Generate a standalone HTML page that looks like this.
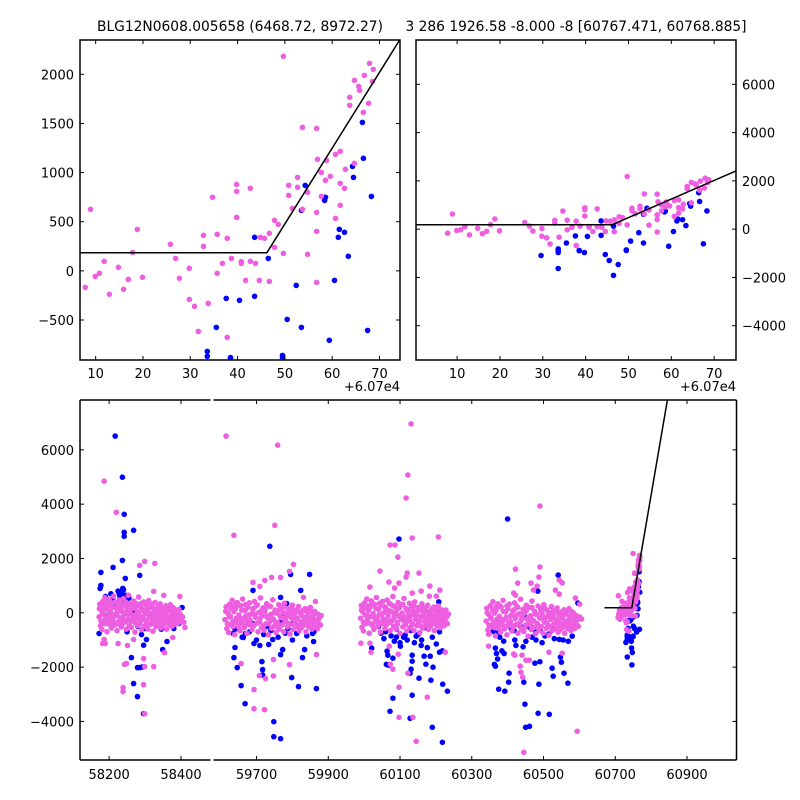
<!DOCTYPE html>
<html><head><meta charset="utf-8"><style>
html,body{margin:0;padding:0;background:#fff;}
svg{display:block;font-family:"DejaVu Sans","Liberation Sans",sans-serif;}
</style></head><body>
<svg id="chart" width="800" height="800" viewBox="0 0 800 800" xmlns="http://www.w3.org/2000/svg"></svg>
<script>
// ---- data ----
// zoomed last season (offset from 60700)
const topMag = [[8.9,626],[7.8,-168],[9.9,-56],[10.8,-25],[11.8,97],[12.9,-239],[14.8,36],[15.9,-188],[16.9,-87],[17.8,188],[18.8,422],[19.9,-66],[25.8,270],[26.9,127],[27.7,-76],[29.8,26],[29.8,-290],[30.9,-361],[31.7,-616],[32.8,361],[32.8,249],[33.8,-331],[34.7,748],[35.7,371],[35.7,-25],[36.8,76],[37.8,331],[37.8,-677],[38.7,127],[39.8,880],[39.8,809],[39.8,544],[40.8,93],[40.8,76],[41.7,-97],[42.7,840],[42.7,97],[43.8,76],[44.6,-97],[44.8,341],[45.7,331],[46.7,382],[46.7,-107],[47.8,514],[47.8,239],[48.6,473],[49.7,2183],[49.7,178],[50.8,870],[50.8,768],[51.6,636],[52.7,951],[52.7,850],[53.7,1460],[53.7,626],[54.8,799],[54.8,168],[56.7,1450],[56.7,595],[56.7,402],[56.7,-117],[56.9,1135],[57.7,1002],[57.7,758],[58.6,921],[58.8,1124],[59.6,962],[60.7,1186],[60.7,534],[61.7,1216],[61.7,890],[61.7,667],[62.6,840],[62.8,1033],[63.7,1766],[63.7,1684],[64.7,1939],[64.7,1094],[65.6,1877],[65.8,1837],[66.6,1613],[66.8,1989],[67.7,1705],[67.9,2112],[68.5,1928],[68.7,2050]];
const topBlue = [[43.6,341],[46.5,127],[53.5,616],[54.3,870],[58.6,748],[58.4,717],[61.5,422],[61.3,341],[62.6,392],[64.3,1063],[64.5,951],[66.4,1511],[66.6,1145],[68.3,758],[63.4,148],[60.5,-97],[52.4,-148],[43.6,-259],[40.4,-300],[37.6,-280],[35.5,-575],[33.6,-819],[38.5,-890],[50.5,-494],[53.5,-575],[59.4,-707],[67.5,-606],[49.5,-860],[29.6,-1090],[33.6,-1628],[33.6,-870],[33.6,-966],[44.6,-1048],[45.5,-1297],[46.5,-1917],[47.6,-1462],[39.7,-966],[38.5,-883],[49.5,-883]];
const fitX = [-30, 46.2, 146];
const fitY = [185, 185, 7880];
const seasonOffset = 60700;

const magAll = [
[58186,4846],[58220,3702],[58285,1747],[58299,1894],[58327,1820],[58397,603],[58324,787],[58352,640],[58411,-541],[58377,-910],[58354,-1464],[58324,-1980],[58299,-1980],[58239,-2755],[58239,-2903],[58248,-1870],[58243,-1900],[58299,-3715],[58296,-2645],[58296,-1685],[58189,-1131],[58186,-984],[58182,-1131],[58225,-1131],[58251,-1205],[58268,-984],
[58172,-150],[58174,320],[58176,-480],[58178,90],[58180,-620],[58182,410],[58184,-30],[58186,-350],[58188,560],[58190,-210],[58192,140],[58194,-700],[58196,250],[58198,-90],[58200,480],[58202,-410],[58204,20],[58206,-560],[58208,360],[58210,-260],[58212,610],[58214,-120],[58216,-440],[58218,180],[58220,-20],[58222,-660],[58224,300],[58226,-330],[58228,470],[58230,-170],[58232,60],[58234,-520],[58236,220],[58238,-380],[58240,520],[58242,-60],[58244,-280],[58246,390],[58248,-600],[58250,110],[58252,-240],[58254,650],[58256,-450],[58258,-10],[58260,280],[58262,-540],[58264,160],[58266,-300],[58268,430],[58270,-80],[58272,-710],[58274,350],[58276,-190],[58278,40],[58280,-470],[58282,580],[58284,-130],[58286,-390],[58288,200],[58290,-620],[58292,90],[58294,-250],[58296,400],[58298,-500],[58300,-40],[58302,300],[58304,-350],[58306,120],[58308,-600],[58310,450],[58312,-180],[58314,-20],[58316,-420],[58318,250],[58320,-300],[58322,-680],[58324,150],[58326,-90],[58328,380],[58330,-510],[58332,30],[58334,-260],[58336,200],[58338,-400],[58340,-120],[58342,330],[58344,-560],[58346,80],[58348,-230],[58350,-450],[58352,180],[58354,-50],[58356,-340],[58358,260],[58360,-600],[58362,-150],[58364,100],[58366,-420],[58368,-260],[58370,300],[58372,-80],[58374,-500],[58376,40],[58378,-320],[58380,150],[58382,-200],[58384,-420],[58386,60],[58388,-280],[58390,-100],[58392,-380],[58394,120],[58396,-220],[58398,-60],[58400,-300],[58404,-150],[58408,-350],
[58173,150],[58177,-300],[58181,-50],[58185,250],[58189,-400],[58193,380],[58197,-250],[58201,60],[58205,-150],[58209,200],[58213,-350],[58217,400],[58221,-100],[58225,120],[58229,-420],[58233,300],[58237,-200],[58241,20],[58245,-330],[58249,260],[58253,-60],[58257,350],[58261,-280],[58265,-120],[58269,180],[58273,-380],[58277,250],[58281,-20],[58285,-300],[58289,340],[58293,-150],[58297,100],[58301,-260],[58305,-420],[58309,200],[58313,-80],[58317,320],[58321,-220],[58325,60],[58329,-360],[58333,-40],[58337,240],[58341,-300],[58345,-100],[58349,160],[58353,-380],[58357,20],[58361,-220],[58365,180],[58369,-350],[58373,-50],[58377,200],[58381,-260],[58385,-100],[58389,100],[58393,-200],
[59615,6507],[59759,6175],[59637,2854],[59751,3223],[59803,1783],[59792,1525],[59767,1304],[59742,1304],[59723,1193],[59690,1119],[59709,972],[59831,566],[59864,418],[59870,-578],[59867,-1538],[59792,-1907],[59657,-1870],[59693,-2829],[59693,-3530],[59722,-3567],[59747,-2325],[59725,-2423],[59708,-2312],[59747,-1722],
[59612,-250],[59615,220],[59617,-580],[59620,-10],[59622,-720],[59625,310],[59627,-130],[59629,-450],[59632,460],[59634,-310],[59637,40],[59639,-800],[59642,150],[59644,-190],[59646,380],[59649,-510],[59651,-80],[59654,-660],[59656,260],[59658,-360],[59661,510],[59663,-220],[59666,-540],[59668,80],[59670,-120],[59673,-760],[59675,200],[59678,-430],[59680,370],[59682,-270],[59685,-40],[59687,-620],[59690,120],[59692,-480],[59694,420],[59697,-160],[59699,-380],[59702,290],[59704,-700],[59706,10],[59709,-340],[59711,550],[59714,-550],[59716,-110],[59718,180],[59721,-640],[59723,60],[59726,-400],[59728,330],[59730,-180],[59733,-810],[59735,250],[59738,-290],[59740,-60],[59742,-570],[59745,480],[59747,-230],[59750,-490],[59752,100],[59754,-720],[59757,-10],[59759,-350],[59762,300],[59764,-600],[59766,-140],[59769,200],[59771,-450],[59774,20],[59776,-700],[59778,350],[59781,-280],[59783,-120],[59786,-520],[59788,150],[59790,-400],[59793,-780],[59795,50],[59798,-190],[59800,280],[59802,-610],[59805,-70],[59807,-360],[59810,100],[59812,-500],[59814,-220],[59817,230],[59819,-660],[59822,-20],[59824,-330],[59826,-550],[59829,80],[59831,-150],[59834,-440],[59836,160],[59838,-700],[59841,-250],[59843,0],[59846,-520],[59848,-360],[59850,200],[59853,-180],[59855,-600],[59858,-60],[59860,-420],[59862,50],[59865,-300],[59867,-520],[59870,-40],[59872,-380],[59875,-200],[59878,-450],[59880,-100],
[59614,50],[59619,-400],[59624,-150],[59629,150],[59634,-500],[59639,280],[59644,-350],[59649,300],[59654,-200],[59659,100],[59664,-450],[59669,300],[59674,-300],[59679,-80],[59684,-430],[59689,160],[59694,-60],[59699,250],[59704,-380],[59709,-220],[59714,80],[59719,-480],[59724,150],[59729,-120],[59734,-400],[59739,240],[59744,-250],[59749,0],[59754,-360],[59759,-500],[59764,100],[59769,-180],[59774,220],[59779,-320],[59784,-40],[59789,-460],[59794,-140],[59799,140],[59804,-400],[59809,-200],[59814,60],[59819,-480],[59824,-80],[59829,-340],[59834,80],[59839,-450],[59844,-150],[59849,100],[59854,-360],[59859,-200],
[60131,6957],[60122,5076],[60117,4228],[60207,2791],[60134,2754],[60072,2496],[60086,2496],[60094,2053],[60044,1537],[60120,1463],[60117,1316],[60153,1463],[60069,1131],[60097,1094],[60183,983],[60085,910],[60134,726],[60159,800],[60201,612],[60182,612],[60016,947],[60211,836],[59991,-1118],[60019,-1450],[60016,-1118],[60226,-1450],[60070,-1229],[60095,-1524],[60073,-1893],[60080,-2077],[60122,-2224],[60097,-2740],[60176,-3109],[60097,-3847],[60136,-3847],[60145,-4732],
[59990,-200],[59992,270],[59994,-530],[59996,40],[59998,-670],[60001,360],[60003,-80],[60005,-400],[60007,510],[60009,-260],[60012,90],[60014,-750],[60016,200],[60018,-140],[60020,430],[60023,-460],[60025,-30],[60027,-610],[60029,310],[60031,-310],[60034,560],[60036,-170],[60038,-490],[60040,130],[60042,-70],[60045,-710],[60047,250],[60049,-380],[60051,420],[60053,-220],[60056,10],[60058,-570],[60060,170],[60062,-430],[60064,470],[60067,-110],[60069,-330],[60071,340],[60073,-650],[60075,60],[60078,-290],[60080,600],[60082,-500],[60084,-60],[60086,230],[60089,-590],[60091,110],[60093,-350],[60095,380],[60097,-130],[60100,-760],[60102,300],[60104,-240],[60106,-10],[60108,-520],[60111,530],[60113,-180],[60115,-440],[60117,150],[60119,-670],[60122,40],[60124,-300],[60126,350],[60128,-550],[60130,-90],[60133,250],[60135,-400],[60137,70],[60139,-650],[60141,400],[60144,-230],[60146,-70],[60148,-470],[60150,200],[60152,-350],[60155,-730],[60157,100],[60159,-140],[60161,330],[60163,-560],[60166,-20],[60168,-310],[60170,150],[60172,-450],[60174,-170],[60177,280],[60179,-610],[60181,30],[60183,-280],[60185,-500],[60188,130],[60190,-100],[60192,-390],[60194,210],[60196,-650],[60199,-200],[60201,50],[60203,-470],[60205,-310],[60207,250],[60210,-130],[60212,-550],[60214,-10],[60216,-370],[60218,100],[60221,-250],[60223,-470],[60225,10],[60227,-330],[60230,-150],[60232,-400],[60235,-50],
[59993,100],[59998,-350],[60003,200],[60008,-100],[60013,250],[60018,-400],[60023,300],[60028,-150],[60033,150],[60038,-300],[60043,350],[60048,-50],[60053,-400],[60058,220],[60063,-250],[60068,80],[60073,-350],[60078,280],[60083,-200],[60088,-20],[60093,-420],[60098,180],[60103,-80],[60108,300],[60113,-330],[60118,-150],[60123,120],[60128,-260],[60133,-450],[60138,250],[60143,-100],[60148,50],[60153,-300],[60158,-480],[60163,200],[60168,-120],[60173,80],[60178,-350],[60183,-50],[60188,-250],[60193,100],[60198,-380],[60203,-100],[60208,130],[60213,-300],[60218,-120],[60223,-200],[60228,100],
[60490,3934],[60490,1685],[60422,1611],[60487,1316],[60482,983],[60465,1094],[60428,1094],[60544,1205],[60552,1100],[60472,836],[60533,836],[60544,690],[60417,726],[60422,650],[60589,542],[60601,320],[60606,-233],[60347,-786],[60347,-1229],[60420,-1560],[60417,-1520],[60440,-1560],[60451,-1745],[60460,-1745],[60435,-1966],[60437,-2188],[60442,-2371],[60552,-1487],[60515,-1450],[60445,-5136],[60594,-4362],
[60340,-300],[60342,170],[60345,-630],[60347,-60],[60349,-770],[60352,260],[60354,-180],[60356,-500],[60359,410],[60361,-360],[60363,-10],[60366,-850],[60368,100],[60370,-240],[60373,330],[60375,-560],[60377,-130],[60380,-710],[60382,210],[60384,-410],[60387,460],[60389,-270],[60391,-590],[60394,30],[60396,-170],[60398,-810],[60401,150],[60403,-480],[60405,320],[60408,-320],[60410,-90],[60412,-670],[60415,70],[60417,-530],[60419,370],[60422,-210],[60424,-430],[60426,240],[60429,-750],[60431,-40],[60433,-390],[60436,500],[60438,-600],[60440,-160],[60443,130],[60445,-690],[60447,10],[60450,-450],[60452,280],[60454,-230],[60457,-860],[60459,200],[60461,-340],[60464,-110],[60466,-620],[60468,430],[60471,-280],[60473,-540],[60475,50],[60478,-770],[60480,-60],[60482,-400],[60485,250],[60487,-650],[60489,-190],[60492,150],[60494,-500],[60496,-30],[60499,-750],[60501,300],[60503,-330],[60506,-170],[60508,-570],[60510,100],[60513,-450],[60515,-830],[60517,0],[60520,-240],[60522,230],[60524,-660],[60527,-120],[60529,-410],[60531,50],[60534,-550],[60536,-270],[60538,180],[60541,-710],[60543,-70],[60545,-380],[60548,-600],[60550,30],[60552,-200],[60555,-490],[60557,110],[60559,-750],[60562,-300],[60564,-50],[60566,-570],[60569,-410],[60571,150],[60573,-230],[60576,-650],[60578,-110],[60580,-470],[60583,0],[60585,-350],[60587,-570],[60590,-90],[60592,-430],[60594,-250],[60597,-500],[60600,-150],
[60343,0],[60348,-450],[60353,-200],[60358,100],[60363,-550],[60368,230],[60373,-400],[60378,250],[60383,-250],[60388,50],[60393,-500],[60398,250],[60403,-350],[60408,-130],[60413,-480],[60418,110],[60423,-110],[60428,200],[60433,-430],[60438,-270],[60443,30],[60448,-530],[60453,100],[60458,-170],[60463,-450],[60468,190],[60473,-300],[60478,-50],[60483,-410],[60488,-550],[60493,50],[60498,-230],[60503,170],[60508,-370],[60513,-90],[60518,-510],[60523,-190],[60528,90],[60533,-450],[60538,-250],[60543,10],[60548,-530],[60553,-130],[60558,-390],[60563,30],[60568,-500],[60573,-200],[60578,50],[60583,-410],[60588,-250]
];
const blueAll = [
[58217,6507],[58237,4994],[58242,3629],[58242,2964],[58242,2817],[58268,3038],[58237,1931],[58211,1673],[58245,1267],[58177,1488],[58285,1378],[58177,1009],[58175,898],[58262,-1648],[58268,-2608],[58279,-3087],[58279,-2017],[58285,-2017],[58296,-3715],[58304,-984],[58349,-1353],[58361,-1058],[58403,197],[58172,-763],[58299,-578],[58324,-25],[58335,160],[58366,-209],[58380,-578],[58394,-394],[58296,-1193],[58293,-1993],
[58205,700],[58210,500],[58215,350],[58225,800],[58230,600],[58235,750],[58240,850],[58245,650],[58250,400],[58220,200],[58190,600],[58185,300],[58195,-100],[58200,-400],[58255,550],[58265,300],[58230,-300],[58270,100],[58280,-500],[58290,-800],[58310,200],[58320,-300],[58345,-600],[58360,-200],[58375,-100],[58390,-300],[58250,-700],[58238,900],[58228,700],[58243,450],
[59737,2448],[59795,1414],[59848,1414],[59823,824],[59690,824],[59767,566],[59784,344],[59748,-4010],[59748,-4563],[59767,-4637],[59798,-2386],[59817,-2718],[59867,-2792],[59657,-2681],[59668,-3346],[59646,-2017],[59637,-1648],[59640,-1279],[59715,-1796],[59717,-2091],[59717,-2288],[59767,-1538],[59773,-1353],[59828,-1648],[59834,-1353],[59859,-1058],[59734,-1168],[59745,-984],[59709,-1205],[59693,-1131],[59663,-910],[59635,-763],[59669,-763],[59787,-578],[59801,-394],[59843,-209],[59812,-763],[59856,-763],[59778,-25],
[59640,-600],[59660,-900],[59680,-700],[59700,-1000],[59720,-800],[59740,-650],[59760,-900],[59780,-750],[59800,-1000],[59820,-600],[59840,-850],[59860,-700],[59690,-400],[59730,-500],[59770,-300],[59810,-450],
[60097,2717],[60021,-1302],[60064,-1413],[60066,-1560],[60068,-1929],[60062,-1900],[60080,-1671],[60084,-1044],[60090,-896],[60101,-1229],[60134,-1560],[60134,-1782],[60131,-2077],[60128,-2224],[60153,-2408],[60134,-3035],[60080,-3146],[60072,-3625],[60128,-3884],[60190,-4216],[60218,-4768],[60172,-1893],[60186,-2482],[60192,-2003],[60167,-1597],[60184,-1597],[60210,-1450],[60218,-1400],[60219,-2629],[60232,-2887],[60159,-1200],[60176,-1280],[60201,-1150],[60145,-860],[60114,-820],[60047,-750],[60191,-200],[60208,400],
[60040,-500],[60060,-700],[60090,-600],[60110,-900],[60130,-650],[60150,-800],[60170,-550],[60190,-900],[60210,-700],[60120,-1000],[60100,-1100],[60140,-1100],[60160,-1000],[60075,-850],[60055,-950],
[60400,3454],[60541,1390],[60484,800],[60596,357],[60375,-712],[60378,-900],[60389,-1044],[60366,-1300],[60369,-1500],[60372,-1700],[60363,-1900],[60366,-1966],[60384,-1400],[60390,-1500],[60404,-2224],[60403,-2556],[60375,-2813],[60392,-2887],[60445,-2556],[60448,-3367],[60450,-4216],[60461,-4180],[60485,-3699],[60516,-3736],[60487,-2629],[60527,-2334],[60524,-2040],[60550,-1820],[60547,-1634],[60557,-2224],[60568,-2593],[60476,-1855],[60490,-1800],
[60420,-1000],[60423,-1200],[60443,-1250],[60451,-1050],[60468,-900],[60479,-1000],[60496,-1100],[60504,-850],[60515,-780],[60530,-950],[60544,-980],[60555,-1000],[60569,-1050],[60527,-600],[60550,-560],[60572,-530],[60580,-860],[60410,-580],[60418,-650],[60435,-480],[60454,-170],[60462,-550],[60478,-700],[60490,-640],[60377,-450],[60360,-680]
];

// ---- helpers ----
const svg = document.getElementById('chart');
const NS = 'http://www.w3.org/2000/svg';
function mk(tag, attrs, parent){
  const e = document.createElementNS(NS, tag);
  for (const k in attrs) e.setAttribute(k, attrs[k]);
  (parent||svg).appendChild(e);
  return e;
}
function scale(d0,d1,p0,p1){ return v => p0 + (v-d0)*(p1-p0)/(d1-d0); }
let clipId = 0;
function clipGroup(x0,y0,x1,y1,name){
  clipId++;
  const cp = mk('clipPath',{id:'c'+clipId});
  mk('rect',{x:x0,y:y0,width:x1-x0,height:y1-y0},cp);
  const g = mk('g',{'clip-path':'url(#c'+clipId+')'});
  
  
  return g;
}
const MAG = '#ee5ee0', BLUE = '#0000ff';
function dots(g, pts, sx, sy, color, name, xoff){
  pts.forEach(p => {
    const c = mk('circle',{cx:sx(p[0]+(xoff||0)).toFixed(1), cy:sy(p[1]).toFixed(1), r:2.8, fill:color}, g);
    
    
  });
}
function fitLine(g, sx, sy, xoff, name){
  const d = fitX.map((x,i)=>(i?'L':'M')+sx(x+xoff).toFixed(1)+','+sy(fitY[i]).toFixed(1)).join(' ');
  const p = mk('path',{d:d, fill:'none', stroke:'#000', 'stroke-width':1.5}, g);
  
  
}
function txt(x,y,s,anchor,name,size){
  const t = mk('text',{x:x,y:y,'font-size':size||13,'text-anchor':anchor||'middle',fill:'#000'});
  t.textContent = s;
  
  
  return t;
}
function line(x1,y1,x2,y2,name,w){
  const l = mk('line',{x1:x1,y1:y1,x2:x2,y2:y2,stroke:'#000','stroke-width':w||1});
  
  
}
function fmt(v){ return v<0 ? '\u2212'+Math.abs(v) : String(v); }

// ---- top-left axes ----
const tlXTicks = [10,20,30,40,50,60,70];
const tlYTicks = [-500,0,500,1000,1500,2000];
(function(){
  const sx = scale(6.69,74.34,80,400), sy = scale(-907,2349,360,40);
  const g = clipGroup(80,40,400,360,'top-left-plot-area');
  dots(g, topBlue, sx, sy, BLUE, 'blue-point', 0);
  dots(g, topMag, sx, sy, MAG, 'magenta-point', 0);
  fitLine(g, sx, sy, 0, 'fit-line');
  tlXTicks.forEach(t=>{ const x=sx(t); line(x,360,x,356,'x-tick'); line(x,40,x,44,'x-tick'); txt(x,378,String(t),'middle','x-tick-label'); });
  tlYTicks.forEach(t=>{ const y=sy(t); line(80,y,84,y,'y-tick'); line(400,y,396,y,'y-tick'); txt(74,y+5,fmt(t),'end','y-tick-label'); });
  const r = mk('rect',{x:80,y:40,width:320,height:320,fill:'none',stroke:'#000','stroke-width':1.5});
   
  txt(400,391,'+6.07e4','end','x-offset-label');
  txt(240,31,'BLG12N0608.005658 (6468.72, 8972.27)','middle','top-left-title',13.8);
})();

// ---- top-right axes ----
const trXTicks = [10,20,30,40,50,60,70];
const trYTicks = [-4000,-2000,0,2000,4000,6000];
(function(){
  const sx = scale(0.4,75.1,416,736), sy = scale(-5420,7836,360,40);
  const g = clipGroup(416,40,736,360,'top-right-plot-area');
  dots(g, topBlue, sx, sy, BLUE, 'blue-point', 0);
  dots(g, topMag, sx, sy, MAG, 'magenta-point', 0);
  fitLine(g, sx, sy, 0, 'fit-line');
  trXTicks.forEach(t=>{ const x=sx(t); line(x,360,x,356,'x-tick'); line(x,40,x,44,'x-tick'); txt(x,378,String(t),'middle','x-tick-label'); });
  trYTicks.forEach(t=>{ const y=sy(t); line(416,y,420,y,'y-tick'); line(736,y,732,y,'y-tick'); txt(742,y+5,fmt(t),'start','y-tick-label'); });
  const r = mk('rect',{x:416,y:40,width:320,height:320,fill:'none',stroke:'#000','stroke-width':1.5});
   
  txt(736,391,'+6.07e4','end','x-offset-label');
  txt(576,31,'3 286 1926.58 -8.000 -8 [60767.471, 60768.885]','middle','top-right-title',13.8);
})();

// ---- bottom broken axes ----
const bXTicksLeft = [58200,58400];
const bXTicksRight = [59700,59900,60100,60300,60500,60700,60900];
const bYTicks = [-4000,-2000,0,2000,4000,6000];
(function(){
  const sy = scale(-5420,7836,760,400);
  const sxL = scale(58119,58482,80,210.5), sxR = scale(59580,61038,213.5,736.5);
  const gL = clipGroup(80,400,210.5,760,'bottom-left-plot-area');
  dots(gL, blueAll, sxL, sy, BLUE, 'blue-point', 0);
  dots(gL, magAll, sxL, sy, MAG, 'magenta-point', 0);
  const gR = clipGroup(213.5,400,736.5,760,'bottom-right-plot-area');
  dots(gR, blueAll, sxR, sy, BLUE, 'blue-point', 0);
  dots(gR, topBlue, sxR, sy, BLUE, 'blue-point', seasonOffset);
  dots(gR, magAll, sxR, sy, MAG, 'magenta-point', 0);
  dots(gR, topMag, sxR, sy, MAG, 'magenta-point', seasonOffset);
  fitLine(gR, sxR, sy, seasonOffset, 'fit-line');
  bXTicksLeft.forEach(t=>{ const x=sxL(t); line(x,760,x,756,'x-tick'); line(x,400,x,404,'x-tick'); txt(x,779,String(t),'middle','x-tick-label'); });
  bXTicksRight.forEach(t=>{ const x=sxR(t); line(x,760,x,756,'x-tick'); line(x,400,x,404,'x-tick'); txt(x,779,String(t),'middle','x-tick-label'); });
  bYTicks.forEach(t=>{ const y=sy(t); line(80,y,84,y,'y-tick'); line(736.5,y,732.5,y,'y-tick'); txt(74,y+5,fmt(t),'end','y-tick-label'); });
  line(80,400,210.5,400,'left-top-spine',1.5);
  line(80,760,210.5,760,'left-bottom-spine',1.5);
  line(80,400,80,760,'left-spine',1.5);
  line(213.5,400,736.5,400,'right-top-spine',1.5);
  line(213.5,760,736.5,760,'right-bottom-spine',1.5);
  line(736.5,400,736.5,760,'right-spine',1.5);
})();
</script>
</body></html>
